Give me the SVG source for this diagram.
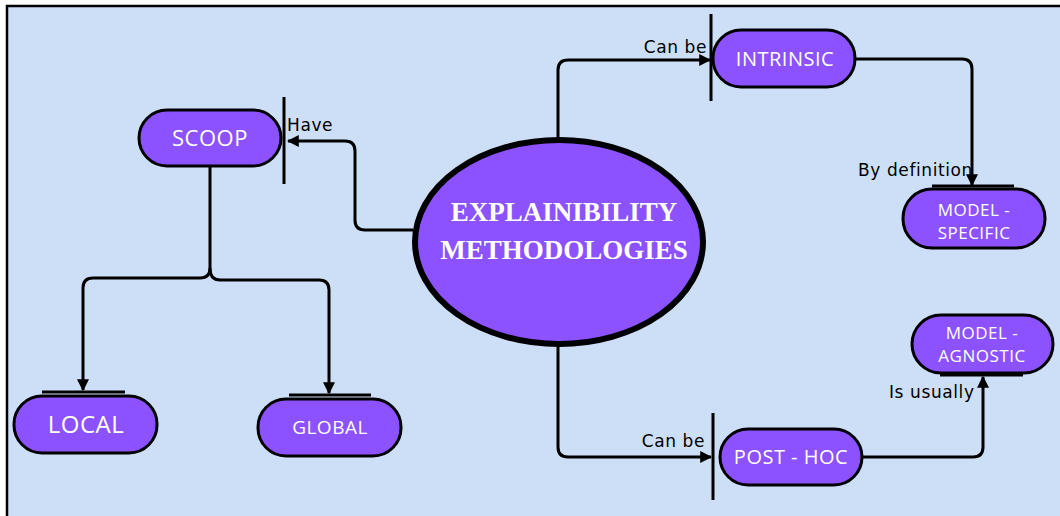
<svg xmlns="http://www.w3.org/2000/svg" width="1060" height="516" viewBox="0 0 1060 516">
<defs>
<marker id="arr" viewBox="0 0 10 10" refX="9" refY="5" markerWidth="4" markerHeight="4" markerUnits="strokeWidth" orient="auto">
<path d="M0,0 L10,5 L0,10 Z" fill="#000"/>
</marker>
</defs>
<style>
.pill{fill:#8c52ff;stroke:#000;stroke-width:3}
.nt{fill:#fff;font-family:"Open Sans","Liberation Sans",sans-serif;text-anchor:middle;letter-spacing:0.5px}
.bar{stroke:#000;stroke-width:3;fill:none}
.con{fill:none;stroke:#000;stroke-width:3;stroke-linejoin:round}
.lbl{fill:#000;font-family:"DejaVu Sans","Liberation Sans",sans-serif;font-size:17px;letter-spacing:0.6px}
.ct{fill:#fff;font-family:"Liberation Serif",serif;font-weight:bold;font-size:27px;text-anchor:middle}
</style>
<rect x="0" y="0" width="1060" height="516" fill="#fff"/>
<rect x="7" y="6" width="1053" height="510" fill="#cddff6"/>
<path d="M7,516 L7,6 L1060,6" fill="none" stroke="#000" stroke-width="2.5"/>

<g id="connectors">
<path class="con" marker-end="url(#arr)" d="M413,230 H365 Q355,230 355,220 V151 Q355,141 345,141 H288"/>
<path class="con" d="M210,166 V268 Q210,278 200,278 H93 Q83,278 83,288 V390" marker-end="url(#arr)"/>
<path class="con" d="M210,268 Q210,280 220,280 H319 Q329,280 329,290 V393" marker-end="url(#arr)"/>
<path class="con" marker-end="url(#arr)" d="M558,139 V70 Q558,60 568,60 H710"/>
<path class="con" marker-end="url(#arr)" d="M855,59 H962 Q972,59 972,69 V185"/>
<path class="con" marker-end="url(#arr)" d="M558,346 V447 Q558,457 568,457 H711"/>
<path class="con" marker-end="url(#arr)" d="M862,457 H973 Q983,457 983,447 V377"/>
<line class="bar" x1="284" y1="97" x2="284" y2="184"/>
<line class="bar" x1="711" y1="14" x2="711" y2="101"/>
<line class="bar" x1="713" y1="413" x2="713" y2="500"/>
<line class="bar" x1="42" y1="392" x2="125" y2="392"/>
<line class="bar" x1="289" y1="395" x2="371" y2="395"/>
<line class="bar" x1="932" y1="186" x2="1014" y2="186"/>
<line class="bar" x1="940" y1="375" x2="1023" y2="375"/>
<text class="lbl" x="287" y="131" font-size="18">Have</text>
<text class="lbl" x="707" y="53" text-anchor="end">Can be</text>
<text class="lbl" x="705" y="447" text-anchor="end">Can be</text>
<text class="lbl" x="858" y="176">By definition</text>
<text class="lbl" x="889" y="398" letter-spacing="1.2">Is usually</text>
</g>

<g id="center">
<ellipse cx="559" cy="242" rx="144" ry="102" fill="#8c52ff" stroke="#000" stroke-width="6"/>
<text class="ct" x="564" y="221">EXPLAINIBILITY</text>
<text class="ct" x="564" y="259">METHODOLOGIES</text>
</g>

<g id="scoop">
<rect class="pill" x="139" y="110" width="142" height="56" rx="28"/>
<text class="nt" x="210" y="146" font-size="22">SCOOP</text>
</g>
<g id="local">
<rect class="pill" x="14" y="396" width="143" height="57" rx="28"/>
<text class="nt" x="86" y="433" font-size="24">LOCAL</text>
</g>
<g id="global">
<rect class="pill" x="258" y="399" width="143" height="57" rx="28"/>
<text class="nt" x="330" y="434" font-size="19">GLOBAL</text>
</g>
<g id="intrinsic">
<rect class="pill" x="713" y="30" width="142" height="57" rx="28"/>
<text class="nt" x="785" y="66" font-size="20">INTRINSIC</text>
</g>
<g id="model-specific">
<rect class="pill" x="903" y="189" width="142" height="59" rx="29"/>
<text class="nt" x="974" y="216" font-size="17">MODEL -</text>
<text class="nt" x="974" y="239" font-size="17">SPECIFIC</text>
</g>
<g id="post-hoc">
<rect class="pill" x="720" y="429" width="142" height="56" rx="28"/>
<text class="nt" x="791" y="464" font-size="20">POST - HOC</text>
</g>
<g id="model-agnostic">
<rect class="pill" x="912" y="315" width="141" height="58" rx="29"/>
<text class="nt" x="982" y="339" font-size="17">MODEL -</text>
<text class="nt" x="982" y="362" font-size="17">AGNOSTIC</text>
</g>
</svg>
